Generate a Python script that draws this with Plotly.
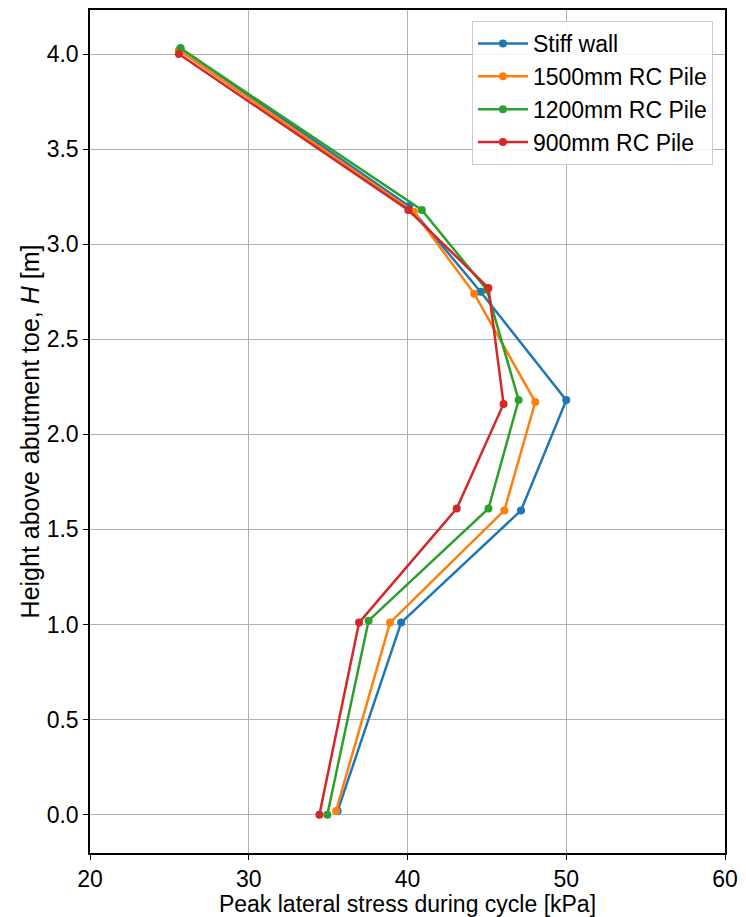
import plotly.graph_objects as go

series_names = ["Stiff wall", "1500mm RC Pile", "1200mm RC Pile", "900mm RC Pile"]
colors = ["#1f77b4", "#ff7f0e", "#2ca02c", "#d62728"]

stiff_x = [35.6, 39.6, 47.15, 50.0, 44.6, 40.1, 25.7]
stiff_y = [0.02, 1.01, 1.60, 2.18, 2.75, 3.20, 4.03]
p1500_x = [35.5, 38.9, 46.1, 48.05, 44.2, 40.4, 25.6]
p1500_y = [0.02, 1.01, 1.60, 2.17, 2.74, 3.17, 4.02]
p1200_x = [34.95, 37.55, 45.1, 47.0, 45.0, 40.9, 25.7]
p1200_y = [0.0, 1.02, 1.61, 2.18, 2.76, 3.18, 4.03]
p900_x = [34.45, 36.95, 43.1, 46.05, 45.1, 40.05, 25.6]
p900_y = [0.0, 1.01, 1.61, 2.16, 2.77, 3.18, 4.0]

xs = [stiff_x, p1500_x, p1200_x, p900_x]
ys = [stiff_y, p1500_y, p1200_y, p900_y]

x_ticks = [20, 30, 40, 50, 60]
y_ticks = [0.0, 0.5, 1.0, 1.5, 2.0, 2.5, 3.0, 3.5, 4.0]

fig = go.Figure()
for name, c, x, y in zip(series_names, colors, xs, ys):
    fig.add_trace(go.Scatter(x=x, y=y, mode="lines+markers", name=name,
                             line=dict(color=c, width=2.5),
                             marker=dict(color=c, size=8)))

font = "Liberation Sans, Arial, sans-serif"
fig.update_layout(
    width=746, height=917,
    margin=dict(l=90, r=16, t=8, b=64),
    plot_bgcolor="white", paper_bgcolor="white",
    font=dict(family=font, size=23, color="black"),
    showlegend=True,
    legend=dict(x=0.981, y=0.987, xanchor="right", yanchor="top",
                bgcolor="rgba(255,255,255,0.85)", bordercolor="#cccccc", borderwidth=1,
                font=dict(size=23, family=font), itemwidth=50, tracegroupgap=0),
)
fig.update_xaxes(range=[20, 60], tickvals=x_ticks, ticktext=[str(v) for v in x_ticks],
                 tickfont=dict(size=23),
                 showgrid=True, gridcolor="#b0b0b0", gridwidth=1,
                 showline=True, linecolor="black", linewidth=1.5, mirror=True,
                 ticks="outside", ticklen=5, tickcolor="black", zeroline=False,
                 title=dict(text="Peak lateral stress during cycle [kPa]", standoff=0,
                            font=dict(size=23)))
fig.update_yaxes(range=[-0.2015, 4.2315], tickvals=y_ticks,
                 ticktext=[f"{v:.1f}" for v in y_ticks],
                 tickfont=dict(size=23),
                 showgrid=True, gridcolor="#b0b0b0", gridwidth=1,
                 showline=True, linecolor="black", linewidth=1.5, mirror=True,
                 ticks="outside", ticklen=5, tickcolor="black", zeroline=False,
                 title=dict(text="Height above abutment toe, <i>H</i> [m]", standoff=0,
                            font=dict(size=25)))

fig.write_html("out.html")
